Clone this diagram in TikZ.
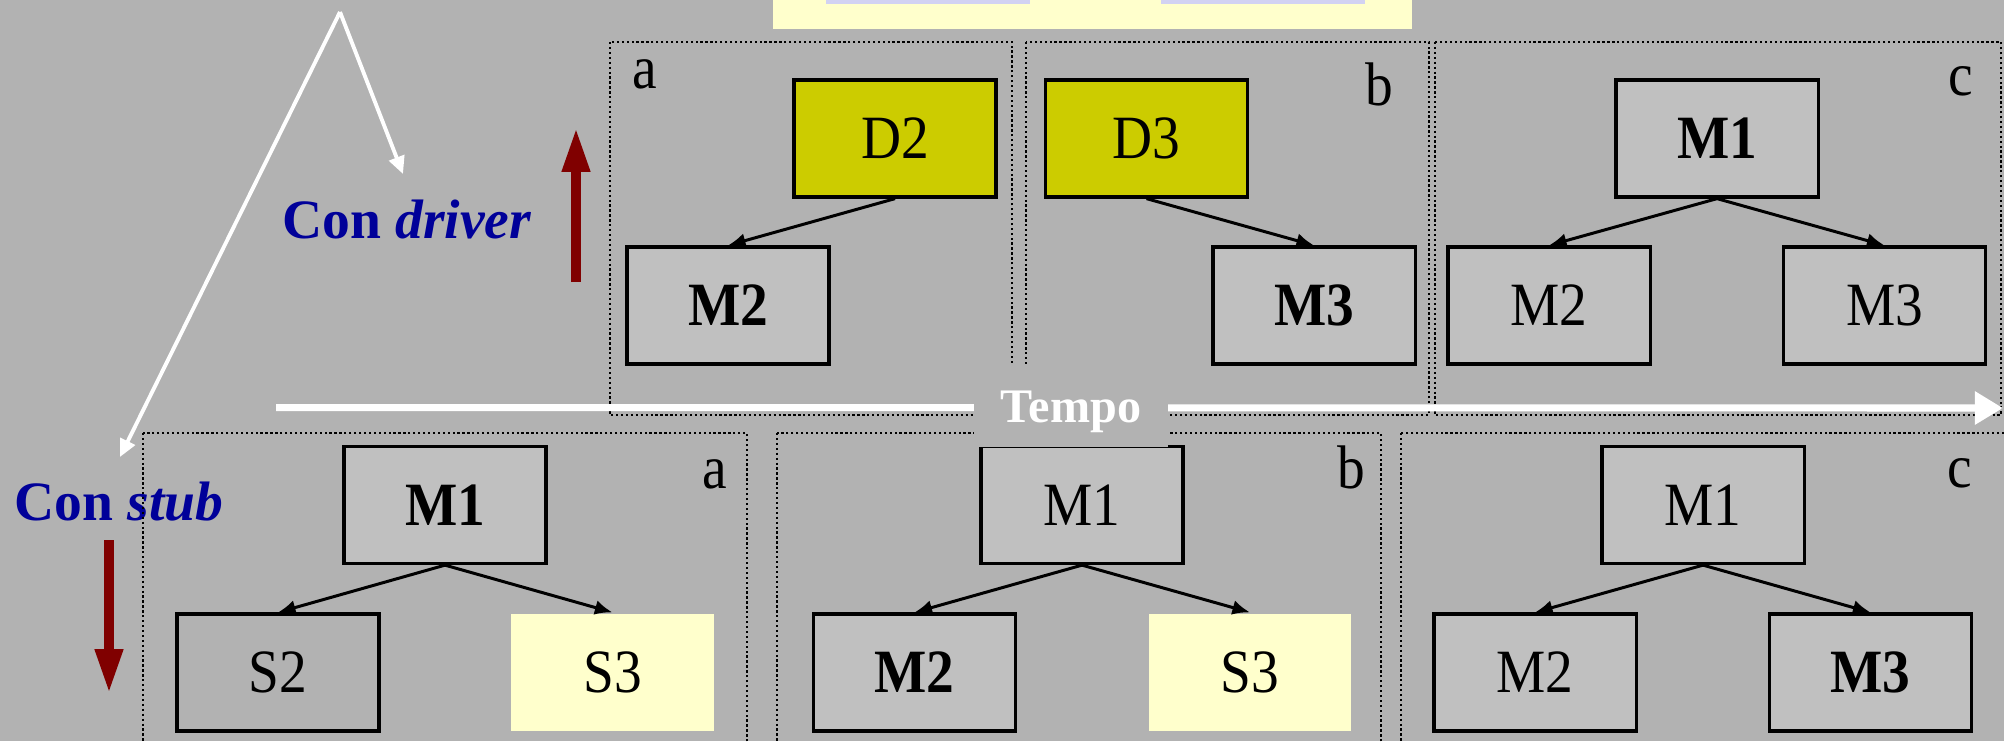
\documentclass[tikz,border=0pt]{standalone}
\usepackage{fontspec}
\setmainfont{Liberation Serif}
\newfontfamily\boxfont[FakeStretch=0.9]{Liberation Serif}
\usetikzlibrary{arrows.meta}

\definecolor{bg}{HTML}{B2B2B2}
\definecolor{boxgray}{HTML}{C0C0C0}
\definecolor{driverfill}{HTML}{CCCC00}
\definecolor{stubfill}{HTML}{FFFFCC}
\definecolor{titlebar}{HTML}{D2D2F2}
\definecolor{labelblue}{HTML}{000099}
\definecolor{trendred}{HTML}{800000}

\tikzset{
  module/.style={draw=black, line width=0.9pt, fill=boxgray,
    minimum width=2.02cm, minimum height=1.17cm, inner sep=0pt,
    font=\boxfont\fontsize{17.5}{20}\selectfont, text height=0.4cm, text depth=0cm},
  driver/.style={module, fill=driverfill},
  stubbox/.style={module, draw=none, fill=stubfill},
  emptystub/.style={module, fill=bg},
  panel/.style={draw=black, line width=0.7pt, dash pattern=on 0.65pt off 0.75pt},
  link/.style={draw=black, line width=0.85pt, -{Latex[length=5pt,width=4.2pt]}},
  pointer/.style={draw=white, line width=1.1pt, -{Triangle[length=5pt,width=4.5pt]}},
  timeline/.style={draw=white, line width=2pt, -{Triangle[length=8pt,width=9pt]}},
  trend/.style={draw=trendred, line width=2.6pt, -{Triangle[length=12.5pt,width=7.5pt]}},
  panelletter/.style={anchor=base, inner sep=0pt, font=\boxfont\fontsize{17.5}{20}\selectfont},
  caption/.style={anchor=base, inner sep=0pt, text=labelblue, font=\fontsize{15.8}{18}\selectfont\bfseries},
  tempo/.style={fill=bg, minimum width=1.94cm, minimum height=0.81cm, inner sep=0pt,
    text=white, font=\bfseries\fontsize{13.7}{16}\selectfont, text height=0.32cm, text depth=0cm}
}

\begin{document}
\begin{tikzpicture}[x=0.01cm, y=-0.01cm]
  % canvas
  \fill[bg] (0,0) rectangle (2004,741);
  \useasboundingbox (0,0) rectangle (2004,741);

  % title bar at the top edge
  \fill[stubfill] (773,-10) rectangle (1412,29);
  \fill[titlebar] (826,-10) rectangle (1030,4);
  \fill[titlebar] (1161,-10) rectangle (1365,4);

  % side captions
  \node[caption] (drv) at (407,238) {Con \textit{driver}};
  \node[caption] (stb) at (119,520) {Con \textit{stub}};

  % dotted frames, top row (driver) and bottom row (stub)
  \draw[panel] (610,42) rectangle (1012,415);
  \draw[panel] (1026,42) rectangle (1429,415);
  \draw[panel] (1435,42) rectangle (2001,415);
  \draw[panel] (143,433) rectangle (747,780);
  \draw[panel] (777,433) rectangle (1381,780);
  \draw[panel] (1401,433) rectangle (2030,780);

  % time axis
  \coordinate (t0) at (276,407.5);
  \coordinate (t1) at (2003,408);
  \draw[timeline] (t0) -- (t1);

  % direction of integration
  \coordinate (up0) at (576,282);
  \coordinate (up1) at (576,128);
  \draw[trend] (up0) -- (up1);
  \coordinate (dn0) at (109,540);
  \coordinate (dn1) at (109,693);
  \draw[trend] (dn0) -- (dn1);

  % white pointers to the two captions
  \coordinate (apex) at (340,12);
  \coordinate (pdrv) at (403,174);
  \coordinate (pstb) at (120,457);
  \draw[pointer] (apex) -- (pdrv);
  \draw[pointer] (apex) -- (pstb);

  % driver steps
  \node[panelletter] (la1) at (645,88) {a};
  \node[driver] (d2) at (895,138.5) {D2};
  \node[module] (a1m2) at (728,305.5) {\textbf{M2}};
  \draw[link] (d2.south) -- (a1m2.north);

  \node[panelletter] (lb1) at (1379,105) {b};
  \node[driver] (d3) at (1146.5,138.5) {D3};
  \node[module] (b1m3) at (1314,305.5) {\textbf{M3}};
  \draw[link] (d3.south) -- (b1m3.north);

  \node[panelletter] (lc1) at (1961,95) {c};
  \node[module] (c1m1) at (1717,138.5) {\textbf{M1}};
  \node[module] (c1m2) at (1549,305.5) {M2};
  \node[module] (c1m3) at (1884.5,305.5) {M3};
  \draw[link] (c1m1.south) -- (c1m2.north);
  \draw[link] (c1m1.south) -- (c1m3.north);

  % stub steps
  \node[panelletter] (la2) at (715,488) {a};
  \node[module] (a2m1) at (445,505) {\textbf{M1}};
  \node[emptystub] (a2s2) at (278,672.5) {S2};
  \node[stubbox] (a2s3) at (612.5,672.5) {S3};
  \draw[link] (a2m1.south) -- (a2s2.north);
  \draw[link] (a2m1.south) -- (a2s3.north);

  \node[panelletter] (lb2) at (1351,488) {b};
  \node[module] (b2m1) at (1082,505) {M1};
  \node[module] (b2m2) at (914.5,672.5) {\textbf{M2}};
  \node[stubbox] (b2s3) at (1250,672.5) {S3};
  \draw[link] (b2m1.south) -- (b2m2.north);
  \draw[link] (b2m1.south) -- (b2s3.north);

  \node[panelletter] (lc2) at (1960,487) {c};
  \node[module] (c2m1) at (1703,505) {M1};
  \node[module] (c2m2) at (1535,672.5) {M2};
  \node[module] (c2m3) at (1870.5,672.5) {\textbf{M3}};
  \draw[link] (c2m1.south) -- (c2m2.north);
  \draw[link] (c2m1.south) -- (c2m3.north);

  % time label on its own patch of background
  \node[tempo] (tempo) at (1071,406.5) {Tempo};
\end{tikzpicture}
\end{document}
